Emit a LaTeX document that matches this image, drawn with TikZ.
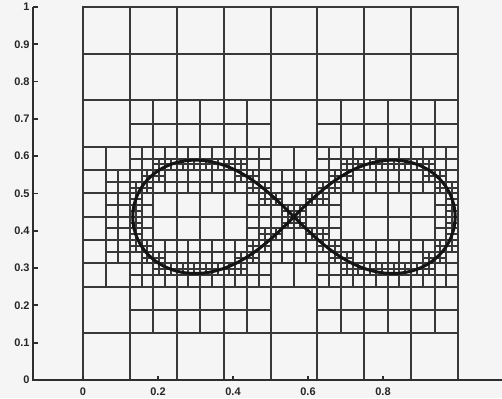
\documentclass[tikz,border=0pt]{standalone}
\usepackage{fontspec}
\setmainfont{Liberation Sans}
\makeatletter
% ---------- balanced quadtree around a lemniscate of Bernoulli ----------
\def\qcx{0.5625}\def\qcy{0.4375}\def\qaa{0.43}
\newcount\qi \newcount\qj
% step 1: level-5 cells (1/32) that contain the curve are split
\foreach \qk in {0,...,1199}{%
  \pgfmathsetmacro\qt{\qk*0.3}%
  \pgfmathsetmacro\qsn{sin(\qt)}%
  \pgfmathsetmacro\qcs{cos(\qt)}%
  \pgfmathsetmacro\qden{1+\qsn*\qsn}%
  \pgfmathsetmacro\qpx{\qcx+\qaa*\qcs/\qden}%
  \pgfmathsetmacro\qpy{\qcy+\qaa*\qsn*\qcs/\qden}%
  \pgfmathtruncatemacro\qci{floor(\qpx*32)}%
  \pgfmathtruncatemacro\qcj{floor(\qpy*32)}%
  \expandafter\gdef\csname qs5@\qci @\qcj\endcsname{}%
}
% mark parent of neighbour (#1+#3,#2+#4) in level #6
\def\qmark#1#2#3#4#5#6{%
  \qi=\numexpr#1+#3\relax \qj=\numexpr#2+#4\relax
  \ifnum\qi<0 \else\ifnum\qi>#5 \else\ifnum\qj<0 \else\ifnum\qj>#5 \else
    \divide\qi by 2 \divide\qj by 2
    \expandafter\gdef\csname qs#6@\the\qi @\the\qj\endcsname{}%
  \fi\fi\fi\fi}
\def\qfive#1#2#3#4{%
  \qmark{#1}{#2}{0}{-1}{#3}{#4}%
  \qmark{#1}{#2}{-1}{0}{#3}{#4}\qmark{#1}{#2}{0}{0}{#3}{#4}\qmark{#1}{#2}{1}{0}{#3}{#4}%
  \qmark{#1}{#2}{0}{1}{#3}{#4}}
% step 2: level 4 (1/16) splits
\foreach \qu in {0,...,31}{\foreach \qv in {0,...,31}{%
  \ifcsname qs5@\qu @\qv\endcsname \qfive{\qu}{\qv}{31}{4}\fi}}
% step 3: level 3 (1/8) splits
\foreach \qu in {0,...,15}{\foreach \qv in {0,...,15}{%
  \ifcsname qs4@\qu @\qv\endcsname \qfive{\qu}{\qv}{15}{3}\fi}}
% drawing
\def\qdraw#1#2#3{%
  \ifcsname qs#1@#2@#3\endcsname
    \edef\qnext{%
      \noexpand\qdraw{\the\numexpr#1+1}{\the\numexpr2*#2}{\the\numexpr2*#3}%
      \noexpand\qdraw{\the\numexpr#1+1}{\the\numexpr2*#2+1}{\the\numexpr2*#3}%
      \noexpand\qdraw{\the\numexpr#1+1}{\the\numexpr2*#2}{\the\numexpr2*#3+1}%
      \noexpand\qdraw{\the\numexpr#1+1}{\the\numexpr2*#2+1}{\the\numexpr2*#3+1}}%
  \else
    \edef\qnext{\noexpand\qcellrect{#1}{#2}{#3}}%
  \fi
  \qnext}
\def\qcellrect#1#2#3{%
  \edef\qn{\ifcase#1 1\or2\or4\or8\or16\or32\or64\fi}%
  \draw[gridline] (#2/\qn,#3/\qn) rectangle ({(#2+1)/\qn},{(#3+1)/\qn});}
\makeatother
\tikzset{
  gridline/.style={line width=2pt, draw=black!78},
  curveline/.style={line width=3pt, draw=black!92, line join=round},
  axisline/.style={line width=1.8pt, draw=black!82},
  ticklabel/.style={font=\bfseries\fontsize{11}{13}\selectfont, text=black!85, inner sep=0pt},
}
\begin{document}
\begin{tikzpicture}[x=1pt,y=1pt]
  \useasboundingbox (0,0) rectangle (502,398);
  \fill[black!4] (0,0) rectangle (502,398);
  \begin{scope}[shift={(83pt,18pt)}, x=375pt, y=373pt]
    % quadtree mesh
    \foreach \qu in {0,...,7}{\foreach \qv in {0,...,7}{\qdraw{3}{\qu}{\qv}}}
    % figure-eight curve
    \draw[curveline] plot[domain=0:360, samples=240, smooth cycle]
      ({0.5625+0.43*cos(\x)/(1+(sin(\x))^2)}, {0.4375+0.43*sin(\x)*cos(\x)/(1+(sin(\x))^2)});
    % axes
    \coordinate (ytop) at (-0.1333,1);
    \coordinate (orig) at (-0.1333,0);
    \coordinate (xend) at (1.118,0);
    \draw[axisline] (ytop) -- (orig) -- (xend);
    \foreach \v/\lab in {0/0,0.1/0.1,0.2/0.2,0.3/0.3,0.4/0.4,0.5/0.5,0.6/0.6,0.7/0.7,0.8/0.8,0.9/0.9,1/1}{
      \draw[axisline] (-0.1333,\v) -- ++(0.012,0);
      \node[ticklabel, anchor=east] (ylab\lab) at (-0.142,\v) {\lab};
    }
    \foreach \v/\lab in {0/0,0.2/0.2,0.4/0.4,0.6/0.6,0.8/0.8}{
      \draw[axisline] (\v,0) -- ++(0,0.012);
      \node[ticklabel, anchor=center] (xlab\lab) at (\v,-0.032) {\lab};
    }
  \end{scope}
\end{tikzpicture}
\end{document}
